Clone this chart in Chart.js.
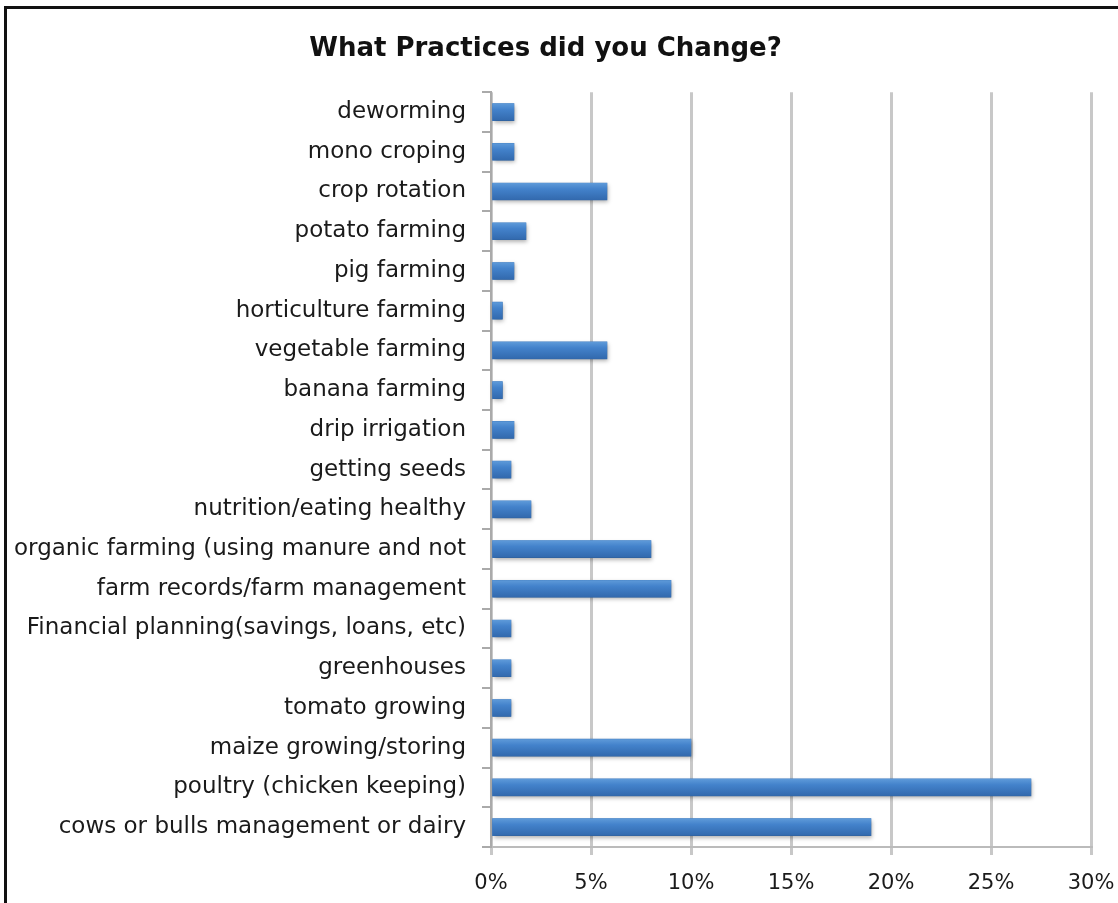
<!DOCTYPE html>
<html>
<head>
<meta charset="utf-8">
<script src="https://cdn.jsdelivr.net/npm/chart.js@4"></script>
<style>
  body { margin: 0; background: #fff; overflow: hidden; }
  #frame { position: absolute; left: 4px; top: 6px; width: 1200px; height: 1000px;
           border-left: 3px solid #111; border-top: 3px solid #111; }
  #wrap { position: absolute; left: 0; top: 0; width: 1118px; height: 903px; }
</style>
</head>
<body>
<div id="frame"></div>
<div id="wrap"><canvas id="practiceChart"></canvas></div>
<script>
// Practices, top to bottom as shown
const practices = [
  'deworming', 'mono croping', 'crop rotation', 'potato farming', 'pig farming',
  'horticulture farming', 'vegetable farming', 'banana farming', 'drip irrigation',
  'getting seeds', 'nutrition/eating healthy', 'organic farming (using manure and not',
  'farm records/farm management', 'Financial planning(savings, loans, etc)',
  'greenhouses', 'tomato growing', 'maize growing/storing',
  'poultry (chicken keeping)', 'cows or bulls management or dairy'
];
// Percent of respondents
const shares = [1.15, 1.15, 5.8, 1.75, 1.15, 0.57, 5.8, 0.57, 1.15, 1.0, 2.0, 8.0, 9.0, 1.0, 1.0, 1.0, 10.0, 27.0, 19.0];
const xTicks = [0, 5, 10, 15, 20, 25, 30];

// shaded bars like the old office charts: repaint each bar with a vertical gradient
const barShade = {
  id: 'barShade',
  afterDatasetsDraw(chart) {
    const c = chart.ctx;
    chart.getDatasetMeta(0).data.forEach(bar => {
      const { x, y, base, height } = bar.getProps(['x', 'y', 'base', 'height'], true);
      const top = y - height / 2;
      const g = c.createLinearGradient(0, top, 0, top + height);
      g.addColorStop(0, '#5e9ad9');
      g.addColorStop(0.35, '#4382cb');
      g.addColorStop(1, '#3269ad');
      c.save();
      c.shadowColor = 'rgba(0,0,0,0.3)';
      c.shadowBlur = 4;
      c.shadowOffsetY = 2;
      c.shadowOffsetX = 1;
      c.fillStyle = g;
      c.fillRect(base, top, x - base, height);
      c.restore();
    });
  }
};

const ctx = document.getElementById('practiceChart').getContext('2d');
new Chart(ctx, {
  type: 'bar',
  data: {
    labels: practices,
    datasets: [{
      label: 'Share',
      data: shares,
      backgroundColor: '#3f7ec6',
      borderWidth: 0,
      barThickness: 17
    }]
  },
  options: {
    indexAxis: 'y',
    responsive: true,
    maintainAspectRatio: false,
    animation: false,
    layout: { padding: { left: 0, right: 27, top: 0, bottom: 0 } },
    scales: {
      x: {
        min: 0,
        max: 30,
        afterBuildTicks: (scale) => { scale.ticks = xTicks.map(v => ({ value: v })); },
        afterFit: (scale) => {
          scale.height = 56;
          scale.paddingLeft = 0;
          scale.paddingRight = 0;
        },
        ticks: {
          callback: (v) => v + '%',
          color: '#1a1a1a',
          font: { family: 'DejaVu Sans', size: 21 },
          padding: 16
        },
        grid: { color: '#c8c8c8', lineWidth: 3, tickLength: 8 },
        border: { color: '#bbb', width: 2 }
      },
      y: {
        afterFit: (scale) => { scale.width = 491; },
        ticks: {
          color: '#1a1a1a',
          font: { family: 'DejaVu Sans', size: 23 },
          padding: 16
        },
        grid: { drawOnChartArea: false, color: '#aaa', lineWidth: 2, tickLength: 9 },
        border: { color: '#aaa', width: 2 }
      }
    },
    plugins: {
      legend: { display: false },
      tooltip: { enabled: false },
      title: {
        display: true,
        text: 'What Practices did you Change?',
        color: '#111',
        font: { family: 'DejaVu Sans', size: 26, weight: 'bold' },
        padding: { top: 34, bottom: 27 }
      }
    }
  },
  plugins: [barShade]
});
</script>
</body>
</html>
